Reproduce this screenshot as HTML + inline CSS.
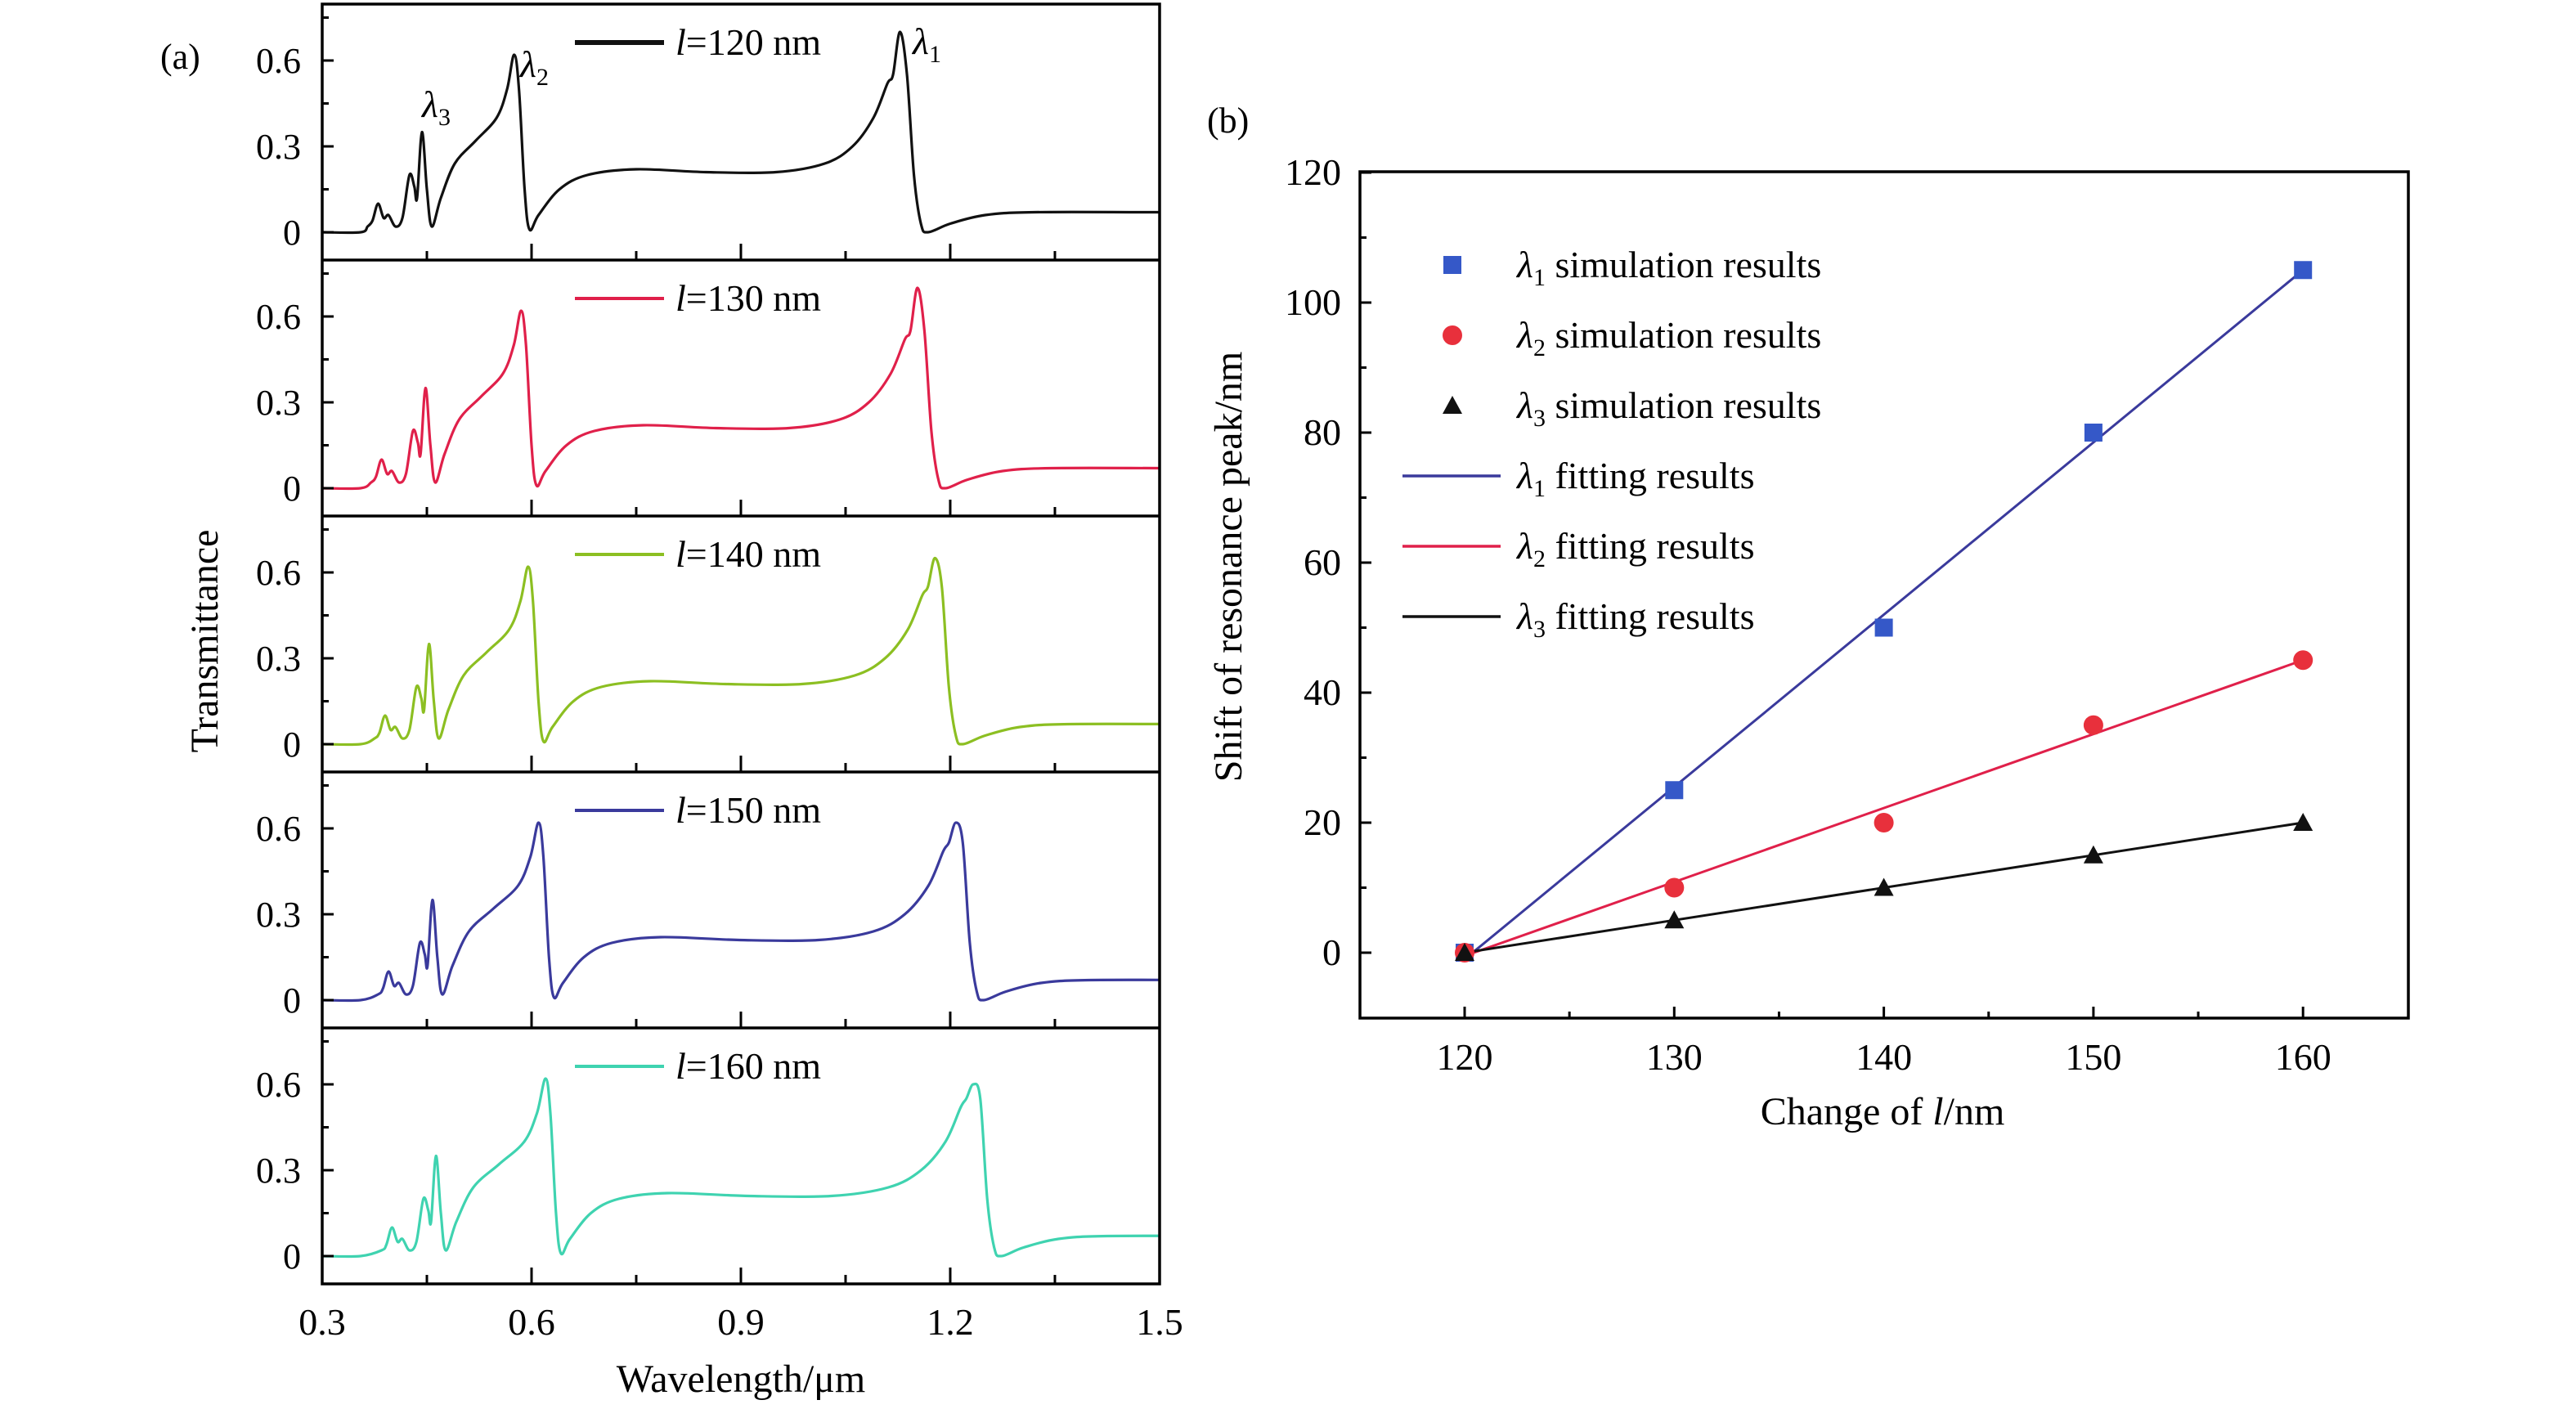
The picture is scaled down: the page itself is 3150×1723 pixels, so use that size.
<!DOCTYPE html>
<html><head><meta charset="utf-8"><style>
html,body{margin:0;padding:0;background:#fff;}
svg{display:block;}
text{font-family:"Liberation Serif","Times New Roman",serif;}
</style></head><body>
<svg id="s" width="3150" height="1723" viewBox="0 0 3150 1723" xmlns="http://www.w3.org/2000/svg" font-family="Liberation Serif, Times New Roman, serif">
<rect width="3150" height="1723" fill="#fff"/>
<defs><clipPath id="cl"><rect x="394" y="0" width="1024" height="1723"/></clipPath></defs>
<g id="left"></g>
<g id="right"></g>
</svg>
<script>
const NS="http://www.w3.org/2000/svg";
const L=document.getElementById('left'),R=document.getElementById('right');
function el(p,tag,a,txt){const e=document.createElementNS(NS,tag);for(const k in a)e.setAttribute(k,a[k]);if(tag==='text')e.setAttribute('font-family','Liberation Serif, Times New Roman, serif');if(txt!==undefined)e.innerHTML=txt;p.appendChild(e);return e;}
const X0=394,X1=1418,PX=853.3;
const tops=[5,318,631,944,1257],PH=313;
const base=[[0.30,0],[0.355,0],[0.365,0.02],[0.372,0.04],[0.38,0.1],[0.388,0.05],[0.395,0.06],[0.405,0.02],[0.415,0.05],[0.425,0.2],[0.432,0.16],[0.436,0.12],[0.443,0.35],[0.45,0.15],[0.457,0.02],[0.47,0.12],[0.49,0.24],[0.52,0.32],[0.55,0.4],[0.565,0.5],[0.575,0.62],[0.582,0.5],[0.59,0.15],[0.597,0.01],[0.61,0.06],[0.64,0.15],[0.68,0.2],[0.75,0.22],[0.85,0.21],[0.95,0.21],[1.02,0.24],[1.06,0.3],[1.09,0.4],[1.11,0.52],[1.118,0.55],[1.128,0.7],[1.138,0.55],[1.148,0.2],[1.158,0.03],[1.168,0.0],[1.2,0.03],[1.25,0.06],[1.32,0.07],[1.5,0.07],[1.7,0.07]];
const S3=[0,.005,.01,.015,.02],S2=[0,.01,.02,.035,.045],S1=[0,.025,.05,.08,.105];
const cols=['#111','#e0204a','#8cbf22','#3a3a9c','#3fd3b0'];
function lerp(a,b,t){return a+(b-a)*Math.max(0,Math.min(1,t));}
function shift(w,k){ if(w<=0.36)return 0; if(w<0.46)return S3[k];
 if(w<0.575)return lerp(S3[k],S2[k],(w-0.46)/0.115);
 if(w<0.75)return S2[k]; if(w<1.1)return lerp(S2[k],S1[k],(w-0.75)/0.35); return S1[k];}
function path(pts){let d='M'+pts[0][0]+','+pts[0][1];
 for(let i=0;i<pts.length-1;i++){const p0=pts[Math.max(0,i-1)],p1=pts[i],p2=pts[i+1],p3=pts[Math.min(pts.length-1,i+2)];
 const c1=[p1[0]+(p2[0]-p0[0])/6,p1[1]+(p2[1]-p0[1])/6],c2=[p2[0]-(p3[0]-p1[0])/6,p2[1]-(p3[1]-p1[1])/6];
 d+=' C'+c1[0].toFixed(1)+','+c1[1].toFixed(1)+' '+c2[0].toFixed(1)+','+c2[1].toFixed(1)+' '+p2[0].toFixed(1)+','+p2[1].toFixed(1);}
 return d;}
const peak1=[0.7,0.7,0.65,0.62,0.6];
tops.forEach((t,k)=>{
 const y0=t+279, yv=v=>y0-v*350;
 const pts=base.map(([w,v])=>{let vv=v; if(w===1.128)vv=peak1[k]; return [X0+(w+shift(w,k)-0.3)*PX,yv(vv)];});
 el(L,'path',{d:path(pts),fill:'none',stroke:cols[k],'stroke-width':3.2,'clip-path':'url(#cl)'});
 [0,0.3,0.6].forEach(v=>{el(L,'line',{x1:X0,x2:X0+14,y1:yv(v),y2:yv(v),stroke:'#000','stroke-width':3});
   el(L,'text',{x:368,y:yv(v)+15,'font-size':44,'text-anchor':'end'},v===0?'0':v.toFixed(1));});
 [0.15,0.45,0.75].forEach(v=>el(L,'line',{x1:X0,x2:X0+8,y1:yv(v),y2:yv(v),stroke:'#000','stroke-width':3}));
 const b=t+PH;
 [0.6,0.9,1.2].forEach(w=>{const x=X0+(w-0.3)*PX;el(L,'line',{x1:x,x2:x,y1:b,y2:b-20,stroke:'#000','stroke-width':3});});
 [0.45,0.75,1.05,1.35].forEach(w=>{const x=X0+(w-0.3)*PX;el(L,'line',{x1:x,x2:x,y1:b,y2:b-11,stroke:'#000','stroke-width':3});});
 const ly=t+47;
 el(L,'line',{x1:703,x2:812,y1:ly,y2:ly,stroke:cols[k],'stroke-width':k==0?6:4});
 el(L,'text',{x:826,y:ly+15,'font-size':46},'<tspan font-style="italic">l</tspan>='+(120+10*k)+' nm');
});
el(L,'rect',{x:X0,y:5,width:X1-X0,height:1570-5,fill:'none',stroke:'#000','stroke-width':3.5});
[318,631,944,1257].forEach(y=>el(L,'line',{x1:X0,x2:X1,y1:y,y2:y,stroke:'#000','stroke-width':3.5}));
[0.3,0.6,0.9,1.2,1.5].forEach(w=>el(L,'text',{x:X0+(w-0.3)*PX,y:1632,'font-size':46,'text-anchor':'middle'},w.toFixed(1)));
el(L,'text',{x:906,y:1702,'font-size':48,'text-anchor':'middle'},'Wavelength/μm');
el(L,'text',{x:0,y:0,'font-size':48,'text-anchor':'middle',transform:'translate(266,784) rotate(-90)'},'Transmittance');
el(L,'text',{x:196,y:84,'font-size':44},'(a)');
el(L,'text',{x:1116,y:66,'font-size':46,'font-style':'italic'},'λ<tspan font-size="30" font-style="normal" dy="10">1</tspan>');
el(L,'text',{x:636,y:94,'font-size':46,'font-style':'italic'},'λ<tspan font-size="30" font-style="normal" dy="10">2</tspan>');
el(L,'text',{x:516,y:143,'font-size':46,'font-style':'italic'},'λ<tspan font-size="30" font-style="normal" dy="10">3</tspan>');
const RX0=1663,RX1=2945,RY0=210,RY1=1245;
const rx=v=>1791+(v-120)*25.63, ry=v=>1165-v*7.95;
el(R,'rect',{x:RX0,y:RY0,width:RX1-RX0,height:RY1-RY0,fill:'none',stroke:'#000','stroke-width':3.5});
for(let v=0;v<=120;v+=20){el(R,'line',{x1:RX0,x2:RX0+14,y1:ry(v),y2:ry(v),stroke:'#000','stroke-width':3});
 el(R,'text',{x:1640,y:ry(v)+15,'font-size':46,'text-anchor':'end'},v);}
for(let v=10;v<=110;v+=20)el(R,'line',{x1:RX0,x2:RX0+8,y1:ry(v),y2:ry(v),stroke:'#000','stroke-width':3});
for(let v=120;v<=160;v+=10){el(R,'line',{x1:rx(v),x2:rx(v),y1:RY1,y2:RY1-14,stroke:'#000','stroke-width':3});
 el(R,'text',{x:rx(v),y:1308,'font-size':46,'text-anchor':'middle'},v);}
for(let v=125;v<=155;v+=10)el(R,'line',{x1:rx(v),x2:rx(v),y1:RY1,y2:RY1-8,stroke:'#000','stroke-width':3});
el(R,'text',{x:2302,y:1375,'font-size':48,'text-anchor':'middle'},'Change of <tspan font-style="italic">l</tspan>/nm');
el(R,'text',{x:0,y:0,'font-size':48,'text-anchor':'middle',transform:'translate(1518,693) rotate(-90)'},'Shift of resonance peak/nm');
el(R,'text',{x:1476,y:162,'font-size':44},'(b)');
const xs=[120,130,140,150,160];
const d1=[0,25,50,80,105],d2=[0,10,20,35,45],d3=[0,5,10,15,20];
el(R,'line',{x1:rx(120),y1:ry(-1),x2:rx(160),y2:ry(105),stroke:'#3a3a9c','stroke-width':3});
el(R,'line',{x1:rx(120),y1:ry(-0.5),x2:rx(160),y2:ry(45),stroke:'#e0204a','stroke-width':3});
el(R,'line',{x1:rx(120),y1:ry(0),x2:rx(160),y2:ry(20),stroke:'#111','stroke-width':3});
const sq=(x,y)=>el(R,'rect',{x:x-11,y:y-11,width:22,height:22,fill:'#3558c8'});
const ci=(x,y)=>el(R,'circle',{cx:x,cy:y,r:12,fill:'#e8303c'});
const tr=(x,y)=>el(R,'polygon',{points:`${x},${y-12} ${x-12},${y+10} ${x+12},${y+10}`,fill:'#111'});
xs.forEach((v,i)=>{sq(rx(v),ry(d1[i]));ci(rx(v),ry(d2[i]));tr(rx(v),ry(d3[i]));});
const lab=(y,s,t)=>el(R,'text',{x:1855,y:y+15,'font-size':46},'<tspan font-style="italic">λ</tspan><tspan font-size="30" dy="10">'+s+'</tspan><tspan dy="-10"> '+t+'</tspan>');
sq(1776,324);lab(324,1,'simulation results');
ci(1776,410);lab(410,2,'simulation results');
tr(1776,496);lab(496,3,'simulation results');
el(R,'line',{x1:1715,x2:1835,y1:582,y2:582,stroke:'#3a3a9c','stroke-width':3.5});lab(582,1,'fitting results');
el(R,'line',{x1:1715,x2:1835,y1:668,y2:668,stroke:'#e0204a','stroke-width':3.5});lab(668,2,'fitting results');
el(R,'line',{x1:1715,x2:1835,y1:754,y2:754,stroke:'#111','stroke-width':3.5});lab(754,3,'fitting results');
</script>
</body></html>
